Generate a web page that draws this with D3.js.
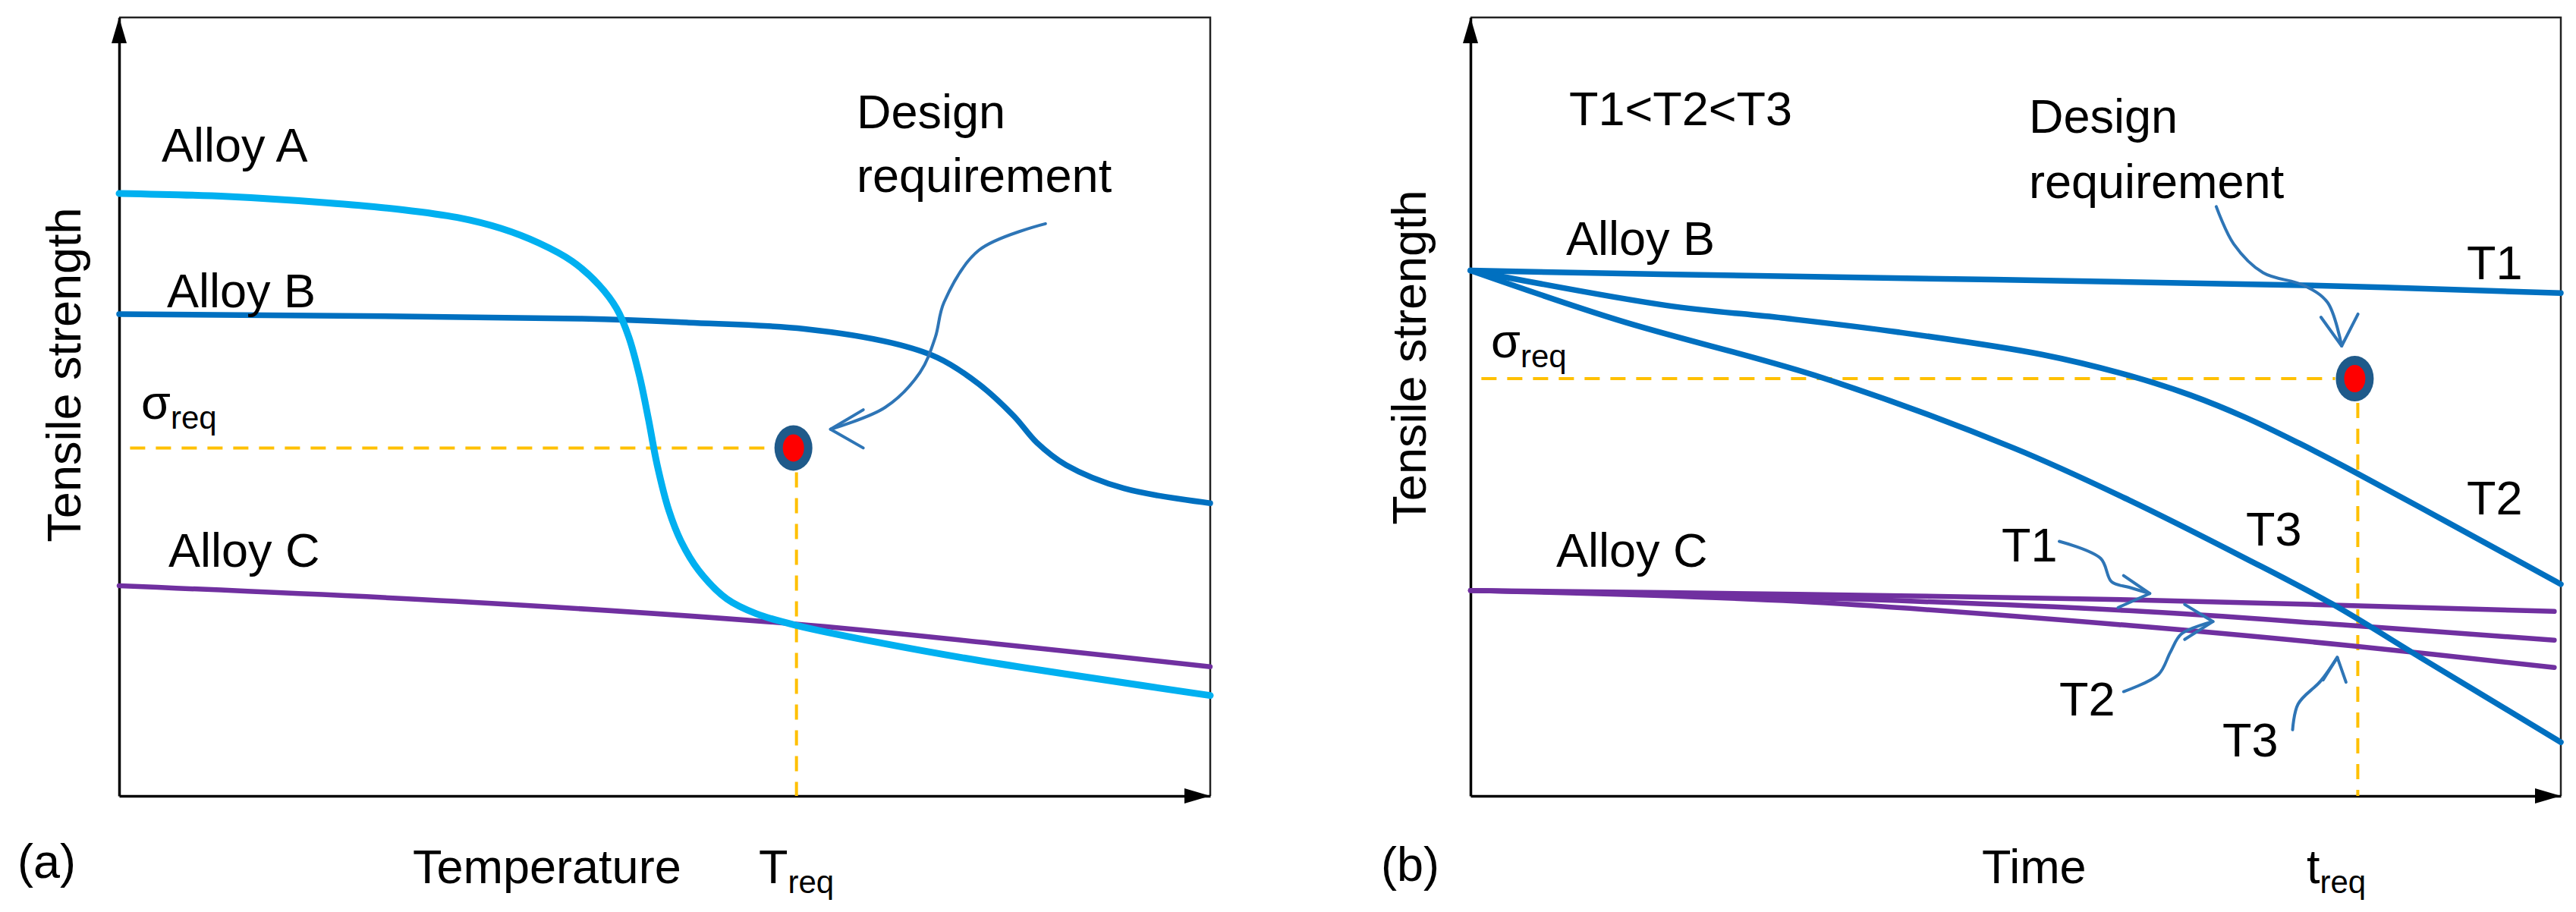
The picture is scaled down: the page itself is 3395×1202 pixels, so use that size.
<!DOCTYPE html>
<html><head><meta charset="utf-8">
<script src="https://cdn.jsdelivr.net/npm/d3@7"></script>
<style>
body{margin:0;background:#fff}
svg{display:block}
text{font-family:"Liberation Sans", Arial, sans-serif; fill:#000}
</style>
</head><body>
<svg id="chart" width="3395" height="1202"></svg>
<script>
// ---------------- DATA (x and y in 0–100 relative units) ----------------
// Panel (a): tensile strength vs temperature
const aAlloyA_T = [0, 10, 19, 26, 31, 35, 38.5, 41.5, 44, 45.6, 46.7, 47.7, 48.5, 49.3, 50.4, 51.5, 53.1, 55.7, 58.4, 62.1, 70, 78.8, 100];
const aAlloyA_S = [77.4, 77.0, 76.2, 75.3, 74.3, 72.9, 71.0, 68.7, 65.6, 62.6, 59.0, 53.9, 48.5, 42.6, 36.6, 32.7, 29.0, 25.3, 23.4, 21.9, 19.6, 17.4, 12.9];
const aAlloyB_T = [0, 42.4, 52.2, 62.8, 70.8, 75.0, 78.8, 82.0, 84.1, 86.8, 92.1, 100];
const aAlloyB_S = [61.9, 61.3, 60.8, 60.0, 58.2, 56.3, 52.9, 48.8, 45.4, 42.5, 39.5, 37.6];
const aAlloyC_T = [0, 30.8, 61.8, 80, 100];
const aAlloyC_S = [27.0, 25.0, 22.1, 19.6, 16.6];
const aReq = {T: 61.8, S: 44.7};

// Panel (b): tensile strength vs time
const bAlloyB_T1_t = [0, 17.7, 76.4, 100];
const bAlloyB_T1_s = [67.5, 67.0, 65.6, 64.6];
const bAlloyB_T2_t = [0, 18, 28.6, 39.1, 52.4, 60.4, 66, 71.1, 76, 80.7, 89.8, 100];
const bAlloyB_T2_s = [67.5, 63.0, 61.4, 59.6, 56.7, 54.0, 51.5, 48.6, 45.3, 41.9, 35.0, 27.2];
const bAlloyB_T3_t = [0, 13.6, 32.3, 49.8, 60.4, 71.1, 79.1, 87.1, 100];
const bAlloyB_T3_s = [67.5, 61.1, 53.7, 44.7, 38.0, 30.5, 24.6, 17.8, 6.9];
const bAlloyC_T1_t = [0, 30, 60.4, 99.4];
const bAlloyC_T1_s = [26.4, 25.9, 25.2, 23.7];
const bAlloyC_T2_t = [0, 30, 60.4, 80.7, 99.4];
const bAlloyC_T2_s = [26.4, 25.5, 23.8, 21.9, 20.0];
const bAlloyC_T3_t = [0, 30, 60.4, 80.7, 99.4];
const bAlloyC_T3_s = [26.4, 25.0, 21.9, 19.3, 16.5];
const bReq = {t: 81.1, s: 53.6};

// ---------------- LAYOUT ----------------
const svg = d3.select("#chart");
const panels = {
  a: {left: 157, right: 1595, top: 23, bottom: 1049},
  b: {left: 1938, right: 3375, top: 23, bottom: 1049}
};
const COL = {A: "#00b0f0", B: "#0070c0", C: "#7030a0", dash: "#ffc000",
             ring: "#1f5a8a", red: "#ff0000", note: "#2e75b6"};
const FS = 63, FSsub = 42;
const SMOOTH = d3.curveCatmullRom.alpha(0.5);

function makeScales(p) {
  return {
    x: d3.scaleLinear().domain([0, 100]).range([p.left, p.right]),
    y: d3.scaleLinear().domain([0, 100]).range([p.bottom, p.top])
  };
}
const sa = makeScales(panels.a), sb = makeScales(panels.b);

function drawFrame(p, s) {
  const g = svg.append("g");
  g.append("path").attr("d", `M${p.left},${p.top}H${p.right}V${p.bottom}`)
    .attr("fill", "none").attr("stroke", "#222").attr("stroke-width", 2.5);
  const ax = g.append("g").attr("transform", `translate(0,${p.bottom})`)
    .call(d3.axisBottom(s.x).tickValues([]).tickSizeOuter(0));
  const ay = g.append("g").attr("transform", `translate(${p.left},0)`)
    .call(d3.axisLeft(s.y).tickValues([]).tickSizeOuter(0));
  [ax, ay].forEach(a => a.select(".domain").attr("stroke", "#000").attr("stroke-width", 3.5));
  g.append("path").attr("d", `M${p.right},${p.bottom} l-34,-10 v20 Z`).attr("fill", "#000");
  g.append("path").attr("d", `M${p.left},${p.top} l-10,34 h20 Z`).attr("fill", "#000");
}

function curve(s, xs, ys, color, width) {
  const pts = xs.map((v, i) => [v, ys[i]]);
  svg.append("path")
    .attr("d", d3.line().x(d => s.x(d[0])).y(d => s.y(d[1])).curve(SMOOTH)(pts))
    .attr("fill", "none").attr("stroke", color).attr("stroke-width", width)
    .attr("stroke-linecap", "round").attr("stroke-linejoin", "round");
}

function note(s, pts, tip, arms) {
  svg.append("path")
    .attr("d", d3.line().x(d => s.x(d[0])).y(d => s.y(d[1])).curve(SMOOTH)(pts.concat([tip])))
    .attr("fill", "none").attr("stroke", COL.note).attr("stroke-width", 4).attr("stroke-linecap", "round");
  svg.append("path")
    .attr("d", d3.line().x(d => s.x(d[0])).y(d => s.y(d[1]))([arms[0], tip, arms[1]]))
    .attr("fill", "none").attr("stroke", COL.note).attr("stroke-width", 4)
    .attr("stroke-linecap", "round").attr("stroke-linejoin", "round");
}

function req(s, X, Y) {
  const cx = s.x(X), cy = s.y(Y);
  const g = svg.append("g");
  g.append("line").attr("x1", s.x(1)).attr("x2", cx - 26).attr("y1", cy).attr("y2", cy)
    .attr("stroke", COL.dash).attr("stroke-width", 4).attr("stroke-dasharray", "20 14");
  g.append("line").attr("x1", cx + 4).attr("x2", cx + 4).attr("y1", cy + 32).attr("y2", s.y(0))
    .attr("stroke", COL.dash).attr("stroke-width", 4).attr("stroke-dasharray", "20 14");
  g.append("ellipse").attr("cx", cx).attr("cy", cy).attr("rx", 25).attr("ry", 30).attr("fill", COL.ring);
  g.append("ellipse").attr("cx", cx).attr("cy", cy).attr("rx", 14).attr("ry", 18).attr("fill", COL.red);
}

function label(x, y, txt, sub) {
  const t = svg.append("text").attr("x", x).attr("y", y).attr("font-size", FS);
  t.append("tspan").text(txt);
  if (sub) t.append("tspan").attr("font-size", FSsub).attr("dy", 13).text(sub);
  return t;
}

function yTitle(x, cy) {
  svg.append("text").attr("transform", `translate(${x},${cy}) rotate(-90)`)
    .attr("text-anchor", "middle").attr("font-size", 63).text("Tensile strength");
}

// ---------------- PANEL A ----------------
drawFrame(panels.a, sa);
req(sa, aReq.T, aReq.S);
curve(sa, aAlloyC_T, aAlloyC_S, COL.C, 6.5);
curve(sa, aAlloyB_T, aAlloyB_S, COL.B, 7.5);
curve(sa, aAlloyA_T, aAlloyA_S, COL.A, 9);
note(sa, [[84.9, 73.5], [78.8, 70.1], [75.6, 63.4], [74.8, 58.9], [73.4, 54.4], [70.2, 49.9]],
     [65.2, 47.1], [[68.2, 49.6], [68.2, 44.7]]);

label(213, 213, "Alloy A");
label(220, 405, "Alloy B");
label(186, 552, "σ", "req");
label(222, 747, "Alloy C");
label(1129, 169, "Design");
label(1129, 253, "requirement");
label(23, 1157, "(a)");
label(544, 1164, "Temperature");
label(1000, 1164, "T", "req");
yTitle(106, 494);

// ---------------- PANEL B ----------------
drawFrame(panels.b, sb);
req(sb, bReq.t, bReq.s);
curve(sb, bAlloyC_T1_t, bAlloyC_T1_s, COL.C, 6.5);
curve(sb, bAlloyC_T2_t, bAlloyC_T2_s, COL.C, 6.5);
curve(sb, bAlloyC_T3_t, bAlloyC_T3_s, COL.C, 6.5);
curve(sb, bAlloyB_T1_t, bAlloyB_T1_s, COL.B, 7.5);
curve(sb, bAlloyB_T2_t, bAlloyB_T2_s, COL.B, 7.5);
curve(sb, bAlloyB_T3_t, bAlloyB_T3_s, COL.B, 7.5);
note(sb, [[68.4, 75.7], [70.0, 70.9], [72.7, 67.2], [76.4, 65.6], [78.6, 63.4]],
     [79.9, 57.8], [[78.0, 61.5], [81.4, 61.9]]);
note(sb, [[54.0, 32.7], [57.8, 30.5], [58.8, 27.5], [60.4, 26.8]],
     [62.3, 26.0], [[59.9, 28.3], [59.4, 24.2]]);
note(sb, [[59.9, 13.4], [63.1, 15.6], [64.2, 18.5], [65.2, 20.8]],
     [68.1, 22.4], [[65.5, 24.6], [65.5, 20.1]]);
note(sb, [[75.4, 8.5], [75.9, 11.8], [78.0, 14.8]],
     [79.5, 17.8], [[78.2, 14.9], [80.3, 14.6]]);

label(2068, 165, "T1<T2<T3");
label(2674, 175, "Design");
label(2674, 261, "requirement");
label(2064, 336, "Alloy B");
label(1965, 471, "σ", "req");
label(2051, 747, "Alloy C");
label(3251, 368, "T1");
label(3251, 678, "T2");
label(2960, 719, "T3");
label(2638, 740, "T1");
label(2714, 943, "T2");
label(2929, 997, "T3");
label(1820, 1161, "(b)");
label(2612, 1164, "Time");
label(3040, 1164, "t", "req");
yTitle(1879, 471);
</script>
</body></html>
